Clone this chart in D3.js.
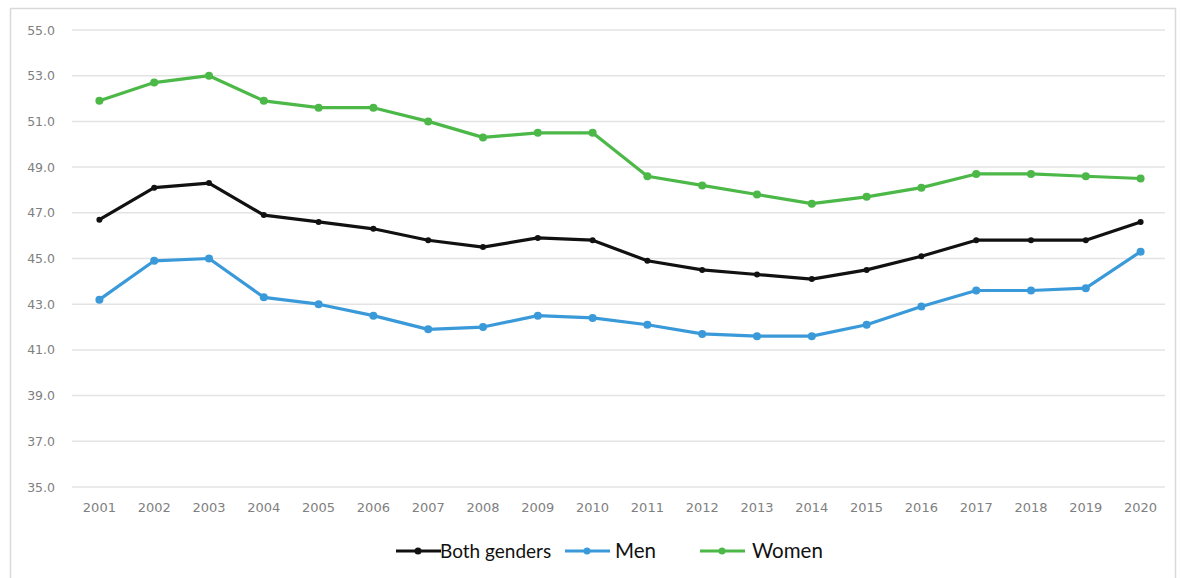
<!DOCTYPE html>
<html><head><meta charset="utf-8">
<script src="https://cdn.jsdelivr.net/npm/d3@7"></script>
<style>body{margin:0;background:#fff;} svg{display:block;}</style>
</head><body>
<svg id="c" width="1182" height="578"></svg>
<script>
const years = ["2001","2002","2003","2004","2005","2006","2007","2008","2009","2010","2011","2012","2013","2014","2015","2016","2017","2018","2019","2020"];
const both  = [46.7,48.1,48.3,46.9,46.6,46.3,45.8,45.5,45.9,45.8,44.9,44.5,44.3,44.1,44.5,45.1,45.8,45.8,45.8,46.6];
const men   = [43.2,44.9,45.0,43.3,43.0,42.5,41.9,42.0,42.5,42.4,42.1,41.7,41.6,41.6,42.1,42.9,43.6,43.6,43.7,45.3];
const women = [51.9,52.7,53.0,51.9,51.6,51.6,51.0,50.3,50.5,50.5,48.6,48.2,47.8,47.4,47.7,48.1,48.7,48.7,48.6,48.5];
const yTicks = [35,37,39,41,43,45,47,49,51,53,55];
const seriesNames = ["Both genders","Men","Women"];
const seriesColors = ["#111111","#3a9ad9","#4cb848"];

const svg = d3.select("#c");
svg.append("rect").attr("x",10.5).attr("y",8.5).attr("width",1165).attr("height",575)
  .attr("fill","none").attr("stroke","#d9d9d9").attr("stroke-width",1.5);

const x = d3.scaleBand().domain(years).range([72,1168]);
const y = d3.scaleLinear().domain([35,55]).range([487,30]);

svg.append("g").selectAll("line").data(yTicks).join("line")
  .attr("x1",72).attr("x2",1165).attr("y1",d=>y(d)).attr("y2",d=>y(d))
  .attr("stroke","#e3e3e3").attr("stroke-width",1.5);

const ya = svg.append("g").attr("transform","translate(55,0)")
  .call(d3.axisLeft(y).tickValues(yTicks).tickSize(0).tickFormat(d3.format(".1f")));
ya.select(".domain").remove();
ya.selectAll("text").attr("fill","#808080").attr("font-family","DejaVu Sans").attr("font-size",12.5).attr("x",0);

const xa = svg.append("g").attr("transform","translate(0,504)")
  .call(d3.axisBottom(x).tickSize(0));
xa.select(".domain").remove();
xa.selectAll("text").attr("fill","#808080").attr("font-family","DejaVu Sans").attr("font-size",13).attr("dy","0.4em");

const data = [both, men, women];
const line = d3.line().x((d,i)=>x(years[i])+x.bandwidth()/2).y(d=>y(d));
[1,0,2].forEach(k=>{
  const g = svg.append("g");
  g.append("path").datum(data[k]).attr("d",line).attr("fill","none")
    .attr("stroke",seriesColors[k]).attr("stroke-width",3.2).attr("stroke-linejoin","round");
  g.selectAll("circle").data(data[k]).join("circle")
    .attr("cx",(d,i)=>x(years[i])+x.bandwidth()/2).attr("cy",d=>y(d))
    .attr("r",k===0?3:4).attr("fill",seriesColors[k]);
});

const legX = [396,565,700];
const legTextX = [440,615,752];
const legSize = [19,20.5,20.5];
const lg = svg.append("g");
seriesNames.forEach((n,k)=>{
  lg.append("line").attr("x1",legX[k]).attr("x2",legX[k]+45).attr("y1",551).attr("y2",551)
    .attr("stroke",seriesColors[k]).attr("stroke-width",3.2);
  lg.append("circle").attr("cx",legX[k]+22).attr("cy",551).attr("r",3.5).attr("fill",seriesColors[k]);
  lg.append("text").attr("x",legTextX[k]).attr("y",551).attr("dy","0.35em")
    .attr("font-family","Lato").attr("font-size",legSize[k]).attr("fill","#111").text(n);
});
</script>
</body></html>
